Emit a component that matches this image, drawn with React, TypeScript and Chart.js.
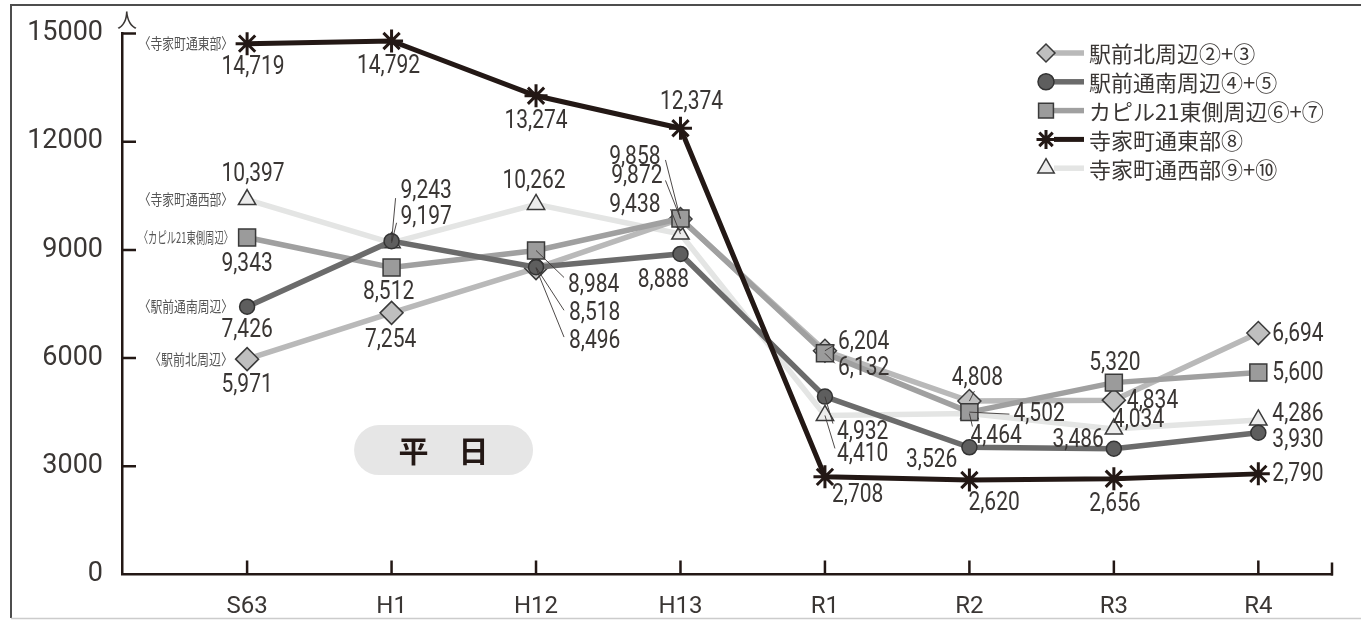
import React, { useEffect, useRef } from 'react';
import { Chart, registerables } from 'chart.js';
import { drawPoint } from 'chart.js/helpers';

Chart.register(...registerables);

// ---- data ----
const categories = ['S63', 'H1', 'H12', 'H13', 'R1', 'R2', 'R3', 'R4'];
const seriesNames = [
  '駅前北周辺②+③',
  '駅前通南周辺④+⑤',
  'カピル21東側周辺⑥+⑦',
  '寺家町通東部⑧',
  '寺家町通西部⑨+⑩',
];
const sideLabels = ['〈駅前北周辺〉', '〈駅前通南周辺〉', '〈カピル21東側周辺〉', '〈寺家町通東部〉', '〈寺家町通西部〉'];
const ekimaeKita = [5971, 7254, 8496, 9858, 6204, 4808, 4834, 6694];
const ekimaeMinami = [7426, 9243, 8518, 8888, 4932, 3526, 3486, 3930];
const kapil21 = [9343, 8512, 8984, 9872, 6132, 4502, 5320, 5600];
const jikeHigashi = [14719, 14792, 13274, 12374, 2708, 2620, 2656, 2790];
const jikeNishi = [10397, 9197, 10262, 9438, 4410, 4464, 4034, 4286];
const yTicks = [0, 3000, 6000, 9000, 12000, 15000];
const unitLabel = '人';
const badgeText = '平　日';

// ---- styles / label placement (not data) ----
const NUM_FONT = "Roboto, 'Noto Sans', sans-serif";
const JP_FONT = "'Noto Sans CJK JP', 'Noto Sans', sans-serif";
const AXIS = '#231815';
const TEXT = '#3a3634';

const styles = [
  { line: '#b9b9b9', fill: '#bfbfbf', point: 'rectRot', r: 11.5, lr: 9, lw: 5.5, border: '#3a3a3a', bw: 1.5, order: 3 },
  { line: '#6b6b6b', fill: '#5e5e5e', point: 'circle', r: 7.5, lr: 8, lw: 5.5, border: '#333333', bw: 1.5, order: 1 },
  { line: '#a0a0a0', fill: '#9b9b9b', point: 'rect', r: 12, lr: 10.5, lw: 5.5, border: '#3a3a3a', bw: 1.5, order: 2 },
  { line: '#231815', fill: '#231815', point: 'star', r: 11.5, lr: 9.5, lw: 5, border: '#231815', bw: 3, order: 0 },
  { line: '#e4e5e4', fill: '#ececec', point: 'triangle', r: 10, lr: 9.5, lw: 5.5, border: '#3a3a3a', bw: 1.5, order: 4 },
];

type P = [number, number, 'l' | 'c' | 'r', number?, number?];
const placements: P[][] = [
  // 駅前北周辺
  [[0, 26, 'c'], [-1, 27, 'c'], [33, 73, 'l', 28, 69], [-20, -62, 'r', -15, -59], [13, -9, 'l', 10, -6], [8, -23, 'c', 5, -10], [13, 1, 'l'], [14, 1, 'l']],
  // 駅前通南周辺
  [[0, 23, 'c'], [9, -50, 'l', 4, -43], [33, 45, 'l', 28, 43], [-17, 26, 'c'], [12, 35, 'l', 8, 27], [-12, 12, 'r'], [-10, -9, 'r'], [14, 7, 'l']],
  // カピル21
  [[0, 26, 'c'], [-3, 24, 'c'], [32, 34, 'l', 28, 27], [-18, -43, 'r', -15, -38], [13, 14, 'l', 10, 10], [44, 2, 'l', 40, 2], [1, -20, 'c'], [14, 0, 'l']],
  // 寺家町通東部
  [[6, 23, 'c'], [-3, 25, 'c'], [0, 25, 'c'], [11, -26, 'c'], [7, 18, 'l'], [-1, 23, 'l'], [1, 25, 'c'], [14, 0, 'l']],
  // 寺家町通西部
  [[6, -26, 'c'], [9, -26, 'l', 5, -20], [-2, -24, 'c'], [-20, -29, 'r', -10, -25], [12, 38, 'l', 10, 33], [1, 22, 'l', 3, 13], [-1, -9, 'l'], [14, -6, 'l']],
];

const seriesValues = [ekimaeKita, ekimaeMinami, kapil21, jikeHigashi, jikeNishi];

const fmt = (v: number) => v.toLocaleString('en-US');

const decorPlugin = {
  id: 'decor',
  beforeDraw(chart: any) {
    const { ctx, width, height } = chart;
    ctx.save();
    ctx.strokeStyle = '#4d4d4d';
    ctx.lineWidth = 2;
    ctx.beginPath();
    ctx.moveTo(width, 5);
    ctx.lineTo(11, 5);
    ctx.lineTo(11, height - 2);
    ctx.stroke();
    ctx.strokeStyle = '#cccccc';
    ctx.lineWidth = 1.5;
    ctx.beginPath();
    ctx.moveTo(11, height - 1.5);
    ctx.lineTo(width, height - 1.5);
    ctx.stroke();
    ctx.restore();
  },
  beforeDatasetsDraw(chart: any) {
    const { ctx, chartArea, scales } = chart;
    const xs = scales.x;
    const ys = scales.y;
    ctx.save();
    ctx.strokeStyle = AXIS;
    ctx.lineWidth = 2.5;
    ctx.beginPath();
    yTicks.forEach((v) => {
      if (v === 0) return;
      const y = ys.getPixelForValue(v);
      ctx.moveTo(chartArea.left, y);
      ctx.lineTo(chartArea.left + 14, y);
    });
    categories.forEach((_, i) => {
      const x = xs.getPixelForValue(i);
      ctx.moveTo(x, chartArea.bottom);
      ctx.lineTo(x, chartArea.bottom - 14);
    });
    ctx.moveTo(chartArea.right, chartArea.bottom + 1);
    ctx.lineTo(chartArea.right, chartArea.bottom - 12);
    ctx.stroke();

    // unit
    ctx.fillStyle = TEXT;
    ctx.font = `20px ${JP_FONT}`;
    ctx.textAlign = 'center';
    ctx.textBaseline = 'middle';
    ctx.fillText(unitLabel, chartArea.left + 5, chartArea.top - 13);

    // badge
    const cx = xs.getPixelForValue(1.36);
    const cy = ys.getPixelForValue(3450);
    const w = 179, h = 50, r = 25;
    ctx.fillStyle = '#e6e6e6';
    ctx.beginPath();
    ctx.moveTo(cx - w / 2 + r, cy - h / 2);
    ctx.lineTo(cx + w / 2 - r, cy - h / 2);
    ctx.arc(cx + w / 2 - r, cy, r, -Math.PI / 2, Math.PI / 2);
    ctx.lineTo(cx - w / 2 + r, cy + h / 2);
    ctx.arc(cx - w / 2 + r, cy, r, Math.PI / 2, Math.PI * 1.5);
    ctx.closePath();
    ctx.fill();
    ctx.fillStyle = AXIS;
    ctx.font = `bold 30px ${JP_FONT}`;
    ctx.textAlign = 'center';
    ctx.fillText(badgeText, cx, cy + 1);
    ctx.restore();
  },
  afterDatasetsDraw(chart: any) {
    const { ctx } = chart;
    ctx.save();
    const SX = 0.84;
    // value labels
    seriesValues.forEach((vals, di) => {
      const meta = chart.getDatasetMeta(di);
      meta.data.forEach((pt: any, j: number) => {
        const pl = placements[di][j];
        const [dx, dy, al, lx, ly] = pl;
        if (lx !== undefined && ly !== undefined) {
          ctx.strokeStyle = TEXT;
          ctx.lineWidth = 0.9;
          ctx.beginPath();
          ctx.moveTo(pt.x, pt.y);
          ctx.lineTo(pt.x + lx, pt.y + ly);
          ctx.stroke();
        }
        ctx.save();
        ctx.translate(pt.x + dx, pt.y + dy + 1);
        ctx.scale(SX, 1);
        ctx.fillStyle = TEXT;
        ctx.font = `25px ${NUM_FONT}`;
        ctx.textAlign = al === 'l' ? 'left' : al === 'r' ? 'right' : 'center';
        ctx.textBaseline = 'middle';
        ctx.fillText(fmt(vals[j]), 0, 0);
        ctx.restore();
      });
      // side label at first point
      const p0 = meta.data[0];
      ctx.save();
      ctx.translate(p0.x - 14, p0.y);
      ctx.scale(0.8, 1);
      ctx.fillStyle = '#555555';
      ctx.font = `15px ${JP_FONT}`;
      ctx.textAlign = 'right';
      ctx.textBaseline = 'middle';
      ctx.fillText(sideLabels[di], 0, 0, 118);
      ctx.restore();
    });

    // legend
    const mx = 1046, lx0 = 1054, lx1 = 1084, tx = 1089, y0 = 53, step = 28.8;
    seriesNames.forEach((name, i) => {
      const st = styles[i];
      const y = y0 + i * step;
      ctx.strokeStyle = st.line;
      ctx.lineWidth = st.lw;
      ctx.beginPath();
      ctx.moveTo(lx0, y);
      ctx.lineTo(lx1, y);
      ctx.stroke();
      ctx.fillStyle = st.fill;
      ctx.strokeStyle = st.border;
      ctx.lineWidth = st.bw;
      drawPoint(ctx, { pointStyle: st.point, radius: st.lr, rotation: 0, borderWidth: st.bw } as any, mx, y);
      ctx.fillStyle = TEXT;
      ctx.font = `22px ${JP_FONT}`;
      ctx.textAlign = 'left';
      ctx.textBaseline = 'middle';
      ctx.fillText(name, tx, y + 1);
    });
    ctx.restore();
  },
};

export default function App() {
  const ref = useRef<HTMLCanvasElement>(null);
  useEffect(() => {
    document.body.style.margin = '0';
    const canvas = ref.current;
    if (!canvas) return;
    const datasets = seriesValues.map((vals, i) => {
      const st = styles[i];
      return {
        label: seriesNames[i],
        data: vals.map((v, j) => ({ x: j, y: v })),
        borderColor: st.line,
        borderWidth: st.lw,
        backgroundColor: st.fill,
        pointBackgroundColor: st.fill,
        pointBorderColor: st.border,
        pointBorderWidth: st.bw,
        pointStyle: st.point as any,
        pointRadius: st.r,
        pointHoverRadius: st.r,
        tension: 0,
        fill: false,
        order: st.order,
        clip: false as any,
      };
    });
    const chart = new Chart(canvas, {
      type: 'line',
      data: { datasets },
      options: {
        animation: false,
        responsive: true,
        maintainAspectRatio: false,
        devicePixelRatio: 1,
        layout: { padding: { top: 33.5, right: 29, bottom: 0, left: 0 } },
        plugins: { legend: { display: false }, tooltip: { enabled: false } },
        events: [],
        scales: {
          x: {
            type: 'linear',
            min: -0.866,
            max: 7.51,
            afterBuildTicks: (s: any) => {
              s.ticks = categories.map((_, i) => ({ value: i }));
            },
            afterFit: (s: any) => {
              s.height = 45.5;
            },
            ticks: {
              autoSkip: false,
              maxRotation: 0,
              padding: 10,
              color: TEXT,
              font: { family: NUM_FONT, size: 24, weight: 'normal' },
              callback: (v: any) => categories[Math.round(Number(v))] ?? '',
            },
            grid: { display: false },
            border: { display: true, color: AXIS, width: 2.5 },
          },
          y: {
            min: 0,
            max: 15000,
            afterBuildTicks: (s: any) => {
              s.ticks = yTicks.map((v) => ({ value: v }));
            },
            afterFit: (s: any) => {
              s.width = 122;
            },
            ticks: {
              padding: 11,
              color: TEXT,
              font: { family: NUM_FONT, size: 27, weight: 'normal' },
              callback: (v: any) => String(v),
            },
            grid: { display: false },
            border: { display: true, color: AXIS, width: 2.5 },
          },
        },
      },
      plugins: [decorPlugin],
    });
    return () => chart.destroy();
  }, []);
  return (
    <div style={{ width: 1361, height: 620, position: 'relative' }}>
      <canvas ref={ref} />
    </div>
  );
}
